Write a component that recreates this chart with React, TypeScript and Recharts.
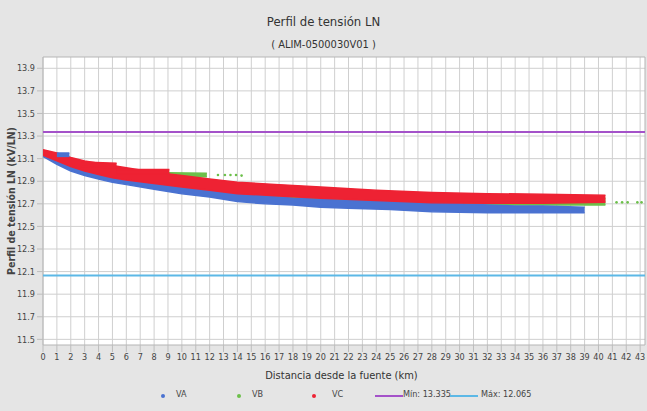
import React from 'react';
import { ComposedChart, Area, Scatter, XAxis, YAxis, CartesianGrid, ReferenceLine, ReferenceArea, Label } from 'recharts';

document.body.style.margin = '0';

const FONT = "'Liberation Sans Narrow', 'Arial Narrow', 'DejaVu Sans Condensed', sans-serif";

const kmTicks: number[] = [
  0, 1, 2, 3, 4, 5, 6, 7, 8, 9, 10, 11, 12, 13, 14, 15, 16, 17, 18, 19, 20, 21,
  22, 23, 24, 25, 26, 27, 28, 29, 30, 31, 32, 33, 34, 35, 36, 37, 38, 39, 40, 41, 42, 43,
];
const kvTicks: number[] = [11.5, 11.7, 11.9, 12.1, 12.3, 12.5, 12.7, 12.9, 13.1, 13.3, 13.5, 13.7, 13.9];

// limits drawn as horizontal lines
const minLimit = 13.335;
const maxLimit = 12.065;

// [km, low kV, high kV] envelopes of the dense point clouds
const vaBand: [number, number, number][] = [
  [0, 13.12, 13.16], [1, 13.05, 13.12], [2, 12.99, 13.07], [3, 12.95, 13.02], [4, 12.92, 12.99],
  [5, 12.89, 12.96], [6, 12.87, 12.93], [8, 12.83, 12.89], [10, 12.79, 12.86], [12, 12.76, 12.83],
  [14, 12.72, 12.8], [16, 12.7, 12.77], [18, 12.69, 12.75], [20, 12.67, 12.74], [22, 12.66, 12.73],
  [25, 12.65, 12.72], [28, 12.63, 12.71], [30, 12.625, 12.7], [32, 12.62, 12.69], [34, 12.62, 12.68],
  [36, 12.62, 12.68], [39, 12.62, 12.67],
];
const vaChunk: [number, number, number][] = [[1.0, 13.12, 13.15], [1.9, 13.12, 13.15]];

const vbBand: [number, number, number][] = [
  [0, 13.13, 13.17], [2, 13.03, 13.1], [4, 12.96, 13.04], [6, 12.92, 12.99], [8, 12.87, 12.95],
  [10, 12.84, 12.92], [14, 12.78, 12.86], [20, 12.74, 12.82], [28, 12.695, 12.78], [34, 12.69, 12.76],
  [40.5, 12.69, 12.75],
];
const vbUpper: [number, number, number][] = [[6, 12.935, 12.965], [9, 12.935, 12.975], [11.8, 12.94, 12.97]];
const vbDots: { km: number; v: number }[] = [
  { km: 12.6, v: 12.955 }, { km: 13.1, v: 12.955 }, { km: 13.5, v: 12.955 }, { km: 13.9, v: 12.955 },
  { km: 14.3, v: 12.95 }, { km: 41.3, v: 12.713 }, { km: 41.7, v: 12.713 }, { km: 42.1, v: 12.713 },
  { km: 42.8, v: 12.713 }, { km: 43.1, v: 12.713 },
];

const vcBand: [number, number, number][] = [
  [0, 13.13, 13.18], [1, 13.08, 13.15], [2, 13.03, 13.11], [3, 12.99, 13.08], [4, 12.96, 13.06],
  [5, 12.93, 13.04], [6, 12.91, 13.02], [8, 12.88, 12.98], [10, 12.85, 12.95], [12, 12.82, 12.92],
  [14, 12.79, 12.89], [17, 12.77, 12.87], [20, 12.75, 12.85], [24, 12.73, 12.82], [28, 12.71, 12.8],
  [32, 12.705, 12.79], [36, 12.705, 12.785], [40.5, 12.715, 12.775],
];
const vcStep1: [number, number, number][] = [[2.8, 13.03, 13.07], [5.3, 13.02, 13.06]];
const vcStep2: [number, number, number][] = [[5.3, 12.965, 13.005], [9.1, 12.965, 13.005]];

const colors = {
  va: '#4a72d1',
  vb: '#6cc04a',
  vc: '#ee2233',
  min: '#a452c9',
  max: '#5cb8e6',
};

const toRows = (band: [number, number, number][]) => band.map(([km, lo, hi]) => ({ km, range: [lo, hi] }));

const band = (rows: [number, number, number][], color: string, key: string) => (
  <Area
    key={key}
    data={toRows(rows)}
    dataKey="range"
    type="linear"
    stroke={color}
    strokeWidth={1.5}
    fill={color}
    fillOpacity={1}
    isAnimationActive={false}
    dot={false}
    activeDot={false}
  />
);

const Dot = (props: any) => <circle cx={props.cx} cy={props.cy} r={1.3} fill={colors.vb} />;

const legendItems = [
  { left: 160, label: 'VA', color: colors.va, kind: 'dot', textLeft: 176 },
  { left: 236, label: 'VB', color: colors.vb, kind: 'dot', textLeft: 252 },
  { left: 311, label: 'VC', color: colors.vc, kind: 'dot', textLeft: 332 },
  { left: 375, label: 'Mín: 13.335', color: colors.min, kind: 'line', textLeft: 403 },
  { left: 450, label: 'Máx: 12.065', color: colors.max, kind: 'line', textLeft: 481 },
];

export default function App() {
  return (
    <div style={{ position: 'relative', width: 647, height: 411, background: '#e5e5e5', fontFamily: FONT, color: '#333' }}>
      <div style={{ position: 'absolute', top: 14, width: 647, textAlign: 'center', fontSize: 13 }}>Perfil de tensión LN</div>
      <div style={{ position: 'absolute', top: 38, width: 647, textAlign: 'center', fontSize: 11 }}>( ALIM-0500030V01 )</div>
      <ComposedChart width={647} height={411} margin={{ top: 57, right: 2, bottom: 36, left: 0 }} style={{ position: 'absolute', top: 0, left: 0 }}>
        <CartesianGrid stroke="#cfcfcf" fill="#ffffff" verticalValues={kmTicks} horizontalValues={kvTicks} />
        <XAxis
          type="number"
          dataKey="km"
          domain={[0, 43.35]}
          ticks={kmTicks}
          interval={0}
          allowDataOverflow
          height={30}
          axisLine={false}
          tickSize={7}
          tickLine={{ stroke: '#bdbdbd' }}
          tick={{ fontSize: 9, fill: '#444', fontFamily: FONT }}
        />
        <YAxis
          type="number"
          domain={[11.45, 14.0]}
          ticks={kvTicks}
          interval={0}
          allowDataOverflow
          width={43}
          axisLine={false}
          tickSize={6}
          tickLine={{ stroke: '#bdbdbd' }}
          tickFormatter={(v: number) => v.toFixed(1)}
          tick={{ fontSize: 9, fill: '#444', fontFamily: FONT }}
        >
          <Label
            value="Perfil de tensión LN (kV/LN)"
            angle={-90}
            position="insideLeft"
            offset={11}
            style={{ textAnchor: 'middle', fontSize: 10.5, fontWeight: 'bold', fill: '#444', fontFamily: FONT }}
          />
        </YAxis>
        <ReferenceArea x1={0} x2={43.35} y1={11.45} y2={14.0} fill="none" stroke="#b5b5b5" ifOverflow="visible" />
        <ReferenceLine y={minLimit} stroke={colors.min} strokeWidth={2} />
        <ReferenceLine y={maxLimit} stroke={colors.max} strokeWidth={2} />
        {band(vbBand, colors.vb, 'vb')}
        {band(vbUpper, colors.vb, 'vbu')}
        {band(vaBand, colors.va, 'va')}
        {band(vcBand, colors.vc, 'vc')}
        {band(vcStep1, colors.vc, 'vc1')}
        {band(vcStep2, colors.vc, 'vc2')}
        {band(vaChunk, colors.va, 'vac')}
        <Scatter data={vbDots} dataKey="v" shape={Dot} isAnimationActive={false} />
      </ComposedChart>
      <div style={{ position: 'absolute', top: 369, width: 647, left: 18, textAlign: 'center', fontSize: 11, color: '#333' }}>
        Distancia desde la fuente (km)
      </div>
      {legendItems.map((it) => (
        <React.Fragment key={it.label}>
          {it.kind === 'dot' ? (
            <div style={{ position: 'absolute', left: it.left + 1, top: 394, width: 4, height: 4, borderRadius: 2, background: it.color }} />
          ) : (
            <div style={{ position: 'absolute', left: it.left, top: 395, width: 28, height: 2, background: it.color }} />
          )}
          <div style={{ position: 'absolute', left: it.textLeft, top: 389, fontSize: 9, color: '#444', whiteSpace: 'nowrap' }}>{it.label}</div>
        </React.Fragment>
      ))}
    </div>
  );
}
